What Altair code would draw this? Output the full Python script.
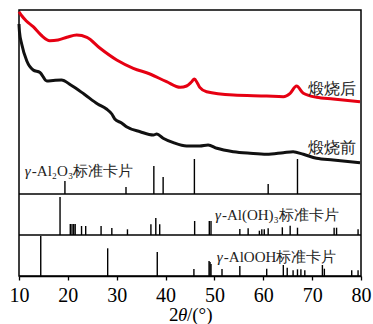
import altair as alt
import pandas as pd

# ---- curve data (2θ, intensity in arbitrary units) ----
after_x = [10.0, 10.6, 11.5, 12.9, 14.5, 16.3, 18.0, 19.8, 21.8, 23.9, 26.6, 30.0, 33.4, 36.8,
           40.2, 43.0, 44.3, 45.3, 45.9, 46.5, 47.0, 48.4, 53.9, 60.7, 64.1, 65.5, 66.8, 68.2,
           70.9, 74.3, 79.8]
after_y = [264.3, 260, 255, 249.3, 241, 235.3, 236, 238.7, 241, 238.7, 227.7, 216, 207.7, 202,
           194.3, 188.7, 190, 194, 197, 193, 188.7, 184.3, 181, 180, 179.3, 182.7, 190, 182.7,
           178.7, 177, 174.3]

before_x = [10.0, 10.1, 10.55, 11.6, 12.9, 14.3, 15.7, 17.0, 18.7, 20.6, 23.3, 26.1, 27.9, 29.0,
            29.6, 31.0, 32.0, 34.8, 37.5, 38.2, 39.5, 41.6, 44.3, 47.0, 48.7, 50.5, 53.9, 57.3,
            60.7, 64.1, 66.1, 68.2, 70.9, 74.3, 79.8]
before_y = [252, 244, 232, 215, 206, 203.5, 195, 195.5, 196, 191, 182, 172, 167, 162,
            157, 153, 149.3, 144.3, 141, 142, 137.7, 133.3, 130, 130, 131, 127.7, 124.3, 122.7,
            121.7, 123.3, 124.3, 121.7, 117.7, 116, 113.3]

# ---- standard card stick patterns ----
al2o3_pos = [19.4, 31.9, 37.6, 39.5, 45.9, 61.0, 67.0]
al2o3_int = [13, 7, 28, 17, 35, 10, 35]

aloh3_pos = [18.4, 20.5, 20.85, 21.2, 21.5, 22.8, 23.65, 26.8, 29.0, 32.2, 37.0, 38.0, 38.8,
             45.95, 48.95, 49.3, 55.2, 56.9, 59.2, 59.7, 60.2, 61.0, 63.9, 65.5, 67.0, 74.5,
             75.0, 79.4]
aloh3_int = [38, 11, 11, 11, 11, 9, 9, 9, 7, 5.7, 10.7, 17, 10.7,
             14, 14, 14, 6, 6.7, 4.3, 5.7, 5.7, 6.7, 7.7, 9.3, 7.3, 7.3,
             7.3, 5.7]

alooh_pos = [14.45, 28.15, 38.3, 45.8, 48.9, 49.1, 49.3, 51.55, 55.2, 60.7, 64.1, 64.9, 66.1,
             67.0, 67.7, 68.5, 72.1, 72.5, 78.1, 79.4]
alooh_int = [40, 27.7, 24, 7, 15, 14, 12, 7, 10, 7.3, 11, 8.3, 5.7,
             6.7, 6.7, 5.7, 11, 7.3, 5.7, 5.7]

x_ticks = list(range(10, 81, 5))

# text labels
curve_lbl_x = [78.9, 78.9]
curve_lbl_y = [187, 128]
curve_lbl_t = ["煅烧后", "煅烧前"]
card_lbl_x = [11.2, 50.1, 50.5]
card_lbl_y = [105, 61, 19]
card_lbl_t = ["-Al₂O₃标准卡片", "-Al(OH)₃标准卡片", "-AlOOH标准卡片"]

PANEL = 41          # height of each card panel in y units
SEP = [PANEL, 2 * PANEL]
YMAX = 266

SERIF = "Liberation Serif"

xs = alt.Scale(domain=[10, 80], nice=False, zero=False)
ys = alt.Scale(domain=[0, YMAX], nice=False, zero=False)

curves = pd.DataFrame(
    {"x": after_x + before_x, "y": after_y + before_y,
     "s": ["after"] * len(after_x) + ["before"] * len(before_x)}
)

sticks = []
for base, pos, inten in [(2 * PANEL, al2o3_pos, al2o3_int),
                         (PANEL, aloh3_pos, aloh3_int),
                         (0, alooh_pos, alooh_int)]:
    for p, h in zip(pos, inten):
        sticks.append({"x": p, "y": base, "y2": base + h})
sticks = pd.DataFrame(sticks)

base_x = alt.X("x:Q", scale=xs, title=None,
               axis=alt.Axis(values=x_ticks, labelExpr="datum.value % 10 == 0 ? datum.label : ''",
                             grid=False, tickSize=4, tickColor="black", tickWidth=1.3,
                             domainColor="black", domainWidth=1.5,
                             labelFont=SERIF, labelFontSize=20, labelColor="black",
                             labelPadding=5, labelFlush=False))

lines = alt.Chart(curves).mark_line(strokeWidth=3, interpolate="monotone").encode(
    x=base_x,
    y=alt.Y("y:Q", scale=ys, axis=None),
    color=alt.Color("s:N", scale=alt.Scale(domain=["after", "before"], range=["#e60012", "#111111"]),
                    legend=None),
    detail="s:N",
)

stick_layer = alt.Chart(sticks).mark_rule(color="black", strokeWidth=1.4).encode(
    x=alt.X("x:Q", scale=xs), y=alt.Y("y:Q", scale=ys), y2="y2:Q"
)

sep_df = pd.DataFrame({"y": SEP, "x": [10, 10], "x2": [80, 80]})
seps = alt.Chart(sep_df).mark_rule(color="black", strokeWidth=1.5).encode(
    x=alt.X("x:Q", scale=xs), x2="x2:Q", y=alt.Y("y:Q", scale=ys)
)

cdf = pd.DataFrame({"x": curve_lbl_x, "y": curve_lbl_y, "t": curve_lbl_t})
txt_r = alt.Chart(cdf).mark_text(
    align="right", baseline="middle", fontSize=16, font=SERIF, color="#222222"
).encode(x=alt.X("x:Q", scale=xs), y=alt.Y("y:Q", scale=ys), text="t:N")

kdf = pd.DataFrame({"x": card_lbl_x, "y": card_lbl_y, "t": card_lbl_t, "g": ["γ"] * 3})
txt_g = alt.Chart(kdf).mark_text(
    align="left", baseline="middle", fontSize=15, font=SERIF, fontStyle="italic", color="#222222"
).encode(x=alt.X("x:Q", scale=xs), y=alt.Y("y:Q", scale=ys), text="g:N")
txt_l = alt.Chart(kdf).mark_text(
    align="left", baseline="middle", fontSize=15, font=SERIF, color="#222222", dx=7
).encode(x=alt.X("x:Q", scale=xs), y=alt.Y("y:Q", scale=ys), text="t:N")

# axis title "2θ/(°)" with italic θ
tdf = pd.DataFrame({"t": ["2", "θ", "/(°)"], "st": ["normal", "italic", "normal"],
                    "dx": [0, 9, 18]})
title_parts = []
for _, r in tdf.iterrows():
    title_parts.append(
        alt.Chart(pd.DataFrame({"t": [r.t]})).mark_text(
            align="left", baseline="middle", fontSize=19, font=SERIF, fontStyle=r.st,
            color="black", dx=int(r.dx)
        ).encode(x=alt.value(150), y=alt.value(305), text="t:N")
    )

chart = alt.layer(lines, stick_layer, seps, txt_r, txt_g, txt_l, *title_parts).properties(
    width=342, height=266,
    autosize=alt.AutoSizeParams(type="none"),
    padding={"left": 19, "top": 10, "right": 12, "bottom": 48},
).configure_view(stroke="black", strokeWidth=1.5)

chart.save("out.html", embed_options={"renderer": "svg", "actions": False})
